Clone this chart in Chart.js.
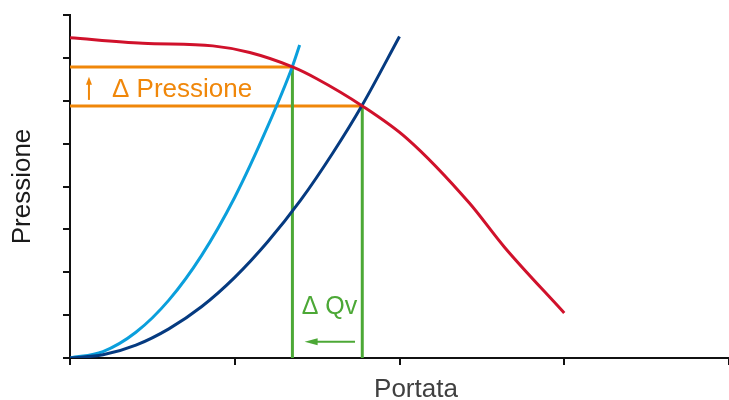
<!DOCTYPE html>
<html>
<head>
<meta charset="utf-8">
<script src="https://cdn.jsdelivr.net/npm/chart.js@4.4.1/dist/chart.umd.min.js"></script>
<style>
  html, body { margin: 0; padding: 0; background: #ffffff; }
  #wrap { width: 729px; height: 400px; position: relative; }
</style>
</head>
<body>
<div id="wrap"><canvas id="c"></canvas></div>
<script>
// ---- Data ----
// System curve A (light blue): flow (Portata) vs pressure
const curveAFlow = [0, 0.2, 0.4, 0.6, 0.8, 1.0, 1.2, 1.35, 1.394];
const curveAPress = [0, 0.15, 0.6, 1.35, 2.4, 3.75, 5.4, 6.8, 7.3];
// System curve B (dark blue)
const curveBFlow = [0, 0.2, 0.4, 0.6, 0.8, 1.0, 1.2, 1.4, 1.6, 1.774, 2.0];
const curveBPress = [0, 0.075, 0.30, 0.68, 1.20, 1.88, 2.71, 3.68, 4.81, 5.9, 7.5];
// Fan curve (red)
const fanFlow = [0, 0.442, 0.867, 1.091, 1.35, 1.495, 1.774, 2.044, 2.424, 2.636, 3.0];
const fanPress = [7.47, 7.34, 7.28, 7.125, 6.79, 6.52, 5.88, 5.124, 3.615, 2.59, 1.05];
// Operating points (intersections)
const opFlow = [1.35, 1.774];
const opPress = [6.79, 5.88];
// Annotation texts
const labelPressure = 'Δ Pressione';
const labelFlow = 'Δ Qv';
const axisTitleX = 'Portata';
const axisTitleY = 'Pressione';
// Axis tick values
const xTicks = [0, 1, 2, 3, 4];
const yTicks = [0, 1, 2, 3, 4, 5, 6, 7, 8];

const toPts = (xs, ys) => xs.map((x, i) => ({x: x, y: ys[i]}));

const RED = '#d0112b', LBLUE = '#0a9fdc', DBLUE = '#053a80', ORANGE = '#f0870a', GREEN = '#4ca836';
const FONT = '"Liberation Sans", Arial, sans-serif';

const datasets = [
  { data: toPts(fanFlow, fanPress), borderColor: RED, borderWidth: 3, cubicInterpolationMode: 'monotone', order: 0 },
  { data: toPts(curveBFlow, curveBPress), borderColor: DBLUE, borderWidth: 3, cubicInterpolationMode: 'monotone', order: 1 },
  { data: toPts(curveAFlow, curveAPress), borderColor: LBLUE, borderWidth: 3, cubicInterpolationMode: 'monotone', order: 2 },
  { data: [{x: opFlow[0], y: 0}, {x: opFlow[0], y: opPress[0]}], borderColor: GREEN, borderWidth: 3, order: 3 },
  { data: [{x: opFlow[1], y: 0}, {x: opFlow[1], y: opPress[1]}], borderColor: GREEN, borderWidth: 3, order: 3 },
  { data: [{x: 0, y: opPress[0]}, {x: opFlow[0], y: opPress[0]}], borderColor: ORANGE, borderWidth: 3, order: 4 },
  { data: [{x: 0, y: opPress[1]}, {x: opFlow[1], y: opPress[1]}], borderColor: ORANGE, borderWidth: 3, order: 4 }
].map(d => Object.assign({ showLine: true, pointRadius: 0, pointHoverRadius: 0, fill: false, tension: 0 }, d));

function arrow(ctx, x1, y1, x2, y2, color, headLen, headW, lw) {
  const ang = Math.atan2(y2 - y1, x2 - x1);
  ctx.save();
  ctx.strokeStyle = color; ctx.fillStyle = color; ctx.lineWidth = lw;
  ctx.beginPath();
  ctx.moveTo(x1, y1);
  ctx.lineTo(x2 - Math.cos(ang) * headLen * 0.8, y2 - Math.sin(ang) * headLen * 0.8);
  ctx.stroke();
  ctx.translate(x2, y2); ctx.rotate(ang);
  ctx.beginPath();
  ctx.moveTo(0, 0);
  ctx.lineTo(-headLen, -headW / 2);
  ctx.lineTo(-headLen, headW / 2);
  ctx.closePath();
  ctx.fill();
  ctx.restore();
}

const annotations = {
  id: 'annotations',
  afterDatasetsDraw(chart) {
    const ctx = chart.ctx;
    const xs = chart.scales.x, ys = chart.scales.y;
    ctx.save();
    ctx.textBaseline = 'alphabetic';
    ctx.textAlign = 'left';
    // pressure annotation
    ctx.fillStyle = ORANGE;
    ctx.font = '26px ' + FONT;
    ctx.fillText(labelPressure, xs.getPixelForValue(0.255), ys.getPixelForValue(6.094));
    arrow(ctx, xs.getPixelForValue(0.115), ys.getPixelForValue(6.02),
               xs.getPixelForValue(0.115), ys.getPixelForValue(6.56), ORANGE, 8, 6, 2);
    // flow annotation
    ctx.fillStyle = GREEN;
    ctx.font = '25px ' + FONT;
    ctx.fillText(labelFlow, xs.getPixelForValue(1.406), ys.getPixelForValue(1.026));
    arrow(ctx, xs.getPixelForValue(1.73), ys.getPixelForValue(0.38),
               xs.getPixelForValue(1.424), ys.getPixelForValue(0.38), GREEN, 13, 7, 2);
    // x axis title (placed as in the reference, slightly right of the scale centre)
    ctx.fillStyle = '#404040';
    ctx.font = '26px ' + FONT;
    ctx.textAlign = 'center';
    ctx.fillText(axisTitleX, xs.getPixelForValue(2.1), ys.getPixelForValue(-0.91));
    ctx.restore();
  }
};

new Chart(document.getElementById('c'), {
  type: 'scatter',
  data: { datasets: datasets },
  plugins: [annotations],
  options: {
    responsive: true,
    maintainAspectRatio: false,
    animation: false,
    events: [],
    layout: { padding: { left: 3, top: 15, right: 0, bottom: 35 } },
    plugins: { legend: { display: false }, tooltip: { enabled: false } },
    scales: {
      x: {
        type: 'linear', min: xTicks[0], max: xTicks[xTicks.length - 1],
        afterBuildTicks: s => { s.ticks = xTicks.map(v => ({value: v})); },
        ticks: { display: false },
        grid: { display: true, drawOnChartArea: false, drawTicks: true, tickLength: 7, color: '#111', lineWidth: 2 },
        border: { display: true, color: '#111', width: 2 },
        title: { display: false }
      },
      y: {
        type: 'linear', min: yTicks[0], max: yTicks[yTicks.length - 1],
        afterBuildTicks: s => { s.ticks = yTicks.map(v => ({value: v})); },
        ticks: { display: false },
        grid: { display: true, drawOnChartArea: false, drawTicks: true, tickLength: 7, color: '#111', lineWidth: 2 },
        border: { display: true, color: '#111', width: 2 },
        title: { display: true, text: axisTitleY, color: '#1a1a1a',
                 font: { family: FONT, size: 26, lineHeight: 1.2 },
                 padding: { top: 4, bottom: 24.8 } }
      }
    }
  }
});
</script>
</body>
</html>
